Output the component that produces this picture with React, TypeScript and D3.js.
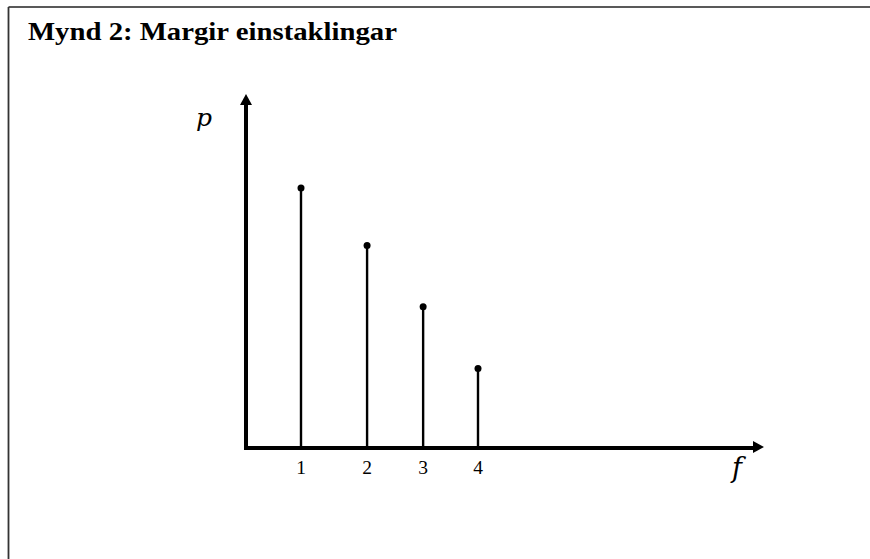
import React from "react";
import * as d3 from "d3";

// Stem positions on the f axis and heights on the p axis
const categories = ["1", "2", "3", "4"];
const stemF = [1, 2.12, 3.07, 4];
const pValues = [0.8, 0.623, 0.435, 0.245];

const titleText = "Mynd 2: Margir einstaklingar";
const yAxisLabel = "p";
const xAxisLabel = "f";

const W = 870;
const H = 559;

export default function App() {
  const x = d3.scaleLinear().domain([1, 4]).range([301, 478]);
  const y = d3.scaleLinear().domain([0, 1]).range([448, 123]);

  const originX = 246;
  const originY = y(0);
  const yTop = 94;
  const xEnd = 764;

  const serif = "'Liberation Serif', 'Times New Roman', serif";
  const italicSerif = "'DejaVu Serif', 'Liberation Serif', serif";

  return (
    <svg
      width={W}
      height={H}
      style={{ position: "absolute", left: 0, top: 0, background: "#fff" }}
    >
      {/* frame */}
      <line x1={8.5} y1={7} x2={W} y2={7} stroke="#222" strokeWidth={1.6} />
      <line x1={8.5} y1={7} x2={8.5} y2={H} stroke="#333" strokeWidth={1.8} />

      <text
        x={28}
        y={40}
        fontFamily={serif}
        fontWeight="bold"
        fontSize={26}
        textLength={369}
        lengthAdjust="spacingAndGlyphs"
        fill="#000"
      >
        {titleText}
      </text>

      {/* stems */}
      {pValues.map((v, i) => (
        <g key={i}>
          <line
            x1={x(stemF[i])}
            x2={x(stemF[i])}
            y1={originY}
            y2={y(v)}
            stroke="#000"
            strokeWidth={2.4}
          />
          <circle cx={x(stemF[i])} cy={y(v)} r={3.5} fill="#000" />
        </g>
      ))}

      {/* axes */}
      <line x1={originX} y1={originY} x2={originX} y2={yTop + 9} stroke="#000" strokeWidth={4} />
      <path
        d={`M${originX},${yTop} L${originX - 6},${yTop + 11} L${originX + 6},${yTop + 11} Z`}
        fill="#000"
      />
      <line x1={originX - 2} y1={originY} x2={xEnd - 9} y2={originY} stroke="#000" strokeWidth={4} />
      <path
        d={`M${xEnd},${originY - 1} L${xEnd - 11},${originY - 7} L${xEnd - 11},${originY + 5} Z`}
        fill="#000"
      />

      {/* tick labels */}
      {categories.map((c, i) => (
        <text
          key={c}
          x={x(stemF[i])}
          y={474}
          textAnchor="middle"
          fontFamily={serif}
          fontSize={19.5}
          fill="#000"
        >
          {c}
        </text>
      ))}

      <text x={196} y={126} fontFamily={italicSerif} fontStyle="italic" fontSize={25} fill="#000">
        {yAxisLabel}
      </text>
      <text x={732} y={477} fontFamily={italicSerif} fontStyle="italic" fontSize={27} fill="#000">
        {xAxisLabel}
      </text>
    </svg>
  );
}
